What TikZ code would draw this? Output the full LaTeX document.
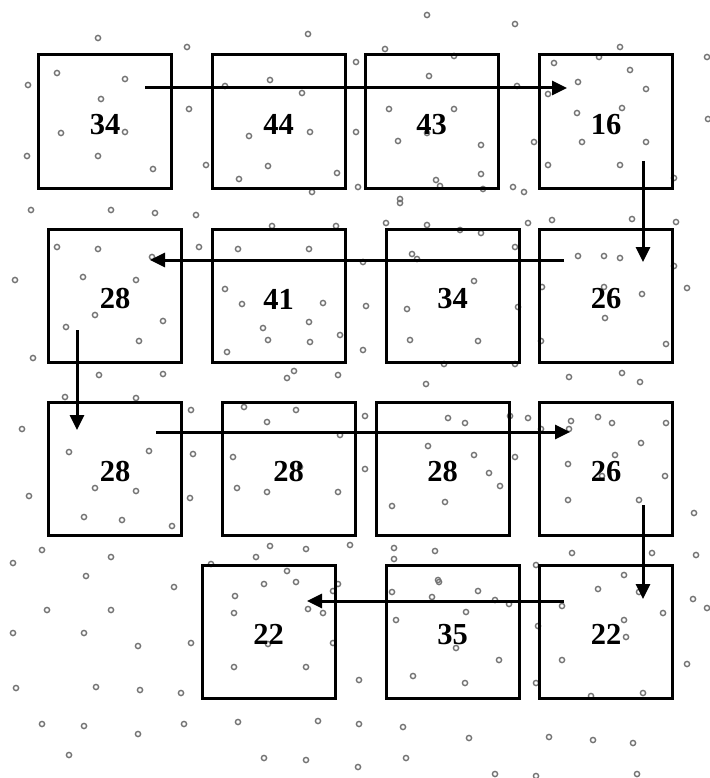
\documentclass[tikz,border=0pt]{standalone}
\usepackage{fontspec}
\setmainfont{Liberation Serif}
\usetikzlibrary{arrows.meta}
\begin{document}
\begin{tikzpicture}[x=1pt,y=-1pt,
  box/.style={draw=black,line width=3pt,minimum width=133pt,minimum height=133pt,inner sep=0pt,
    text height=26pt,font=\fontsize{30.5}{32}\selectfont\bfseries},
  dot/.style={draw=black!55,line width=1.4pt},
  flow/.style={line width=3pt,-{Triangle[length=15pt,width=14pt]}}]
\useasboundingbox (0,0) rectangle (709,778);
% scattered small circles
\foreach \x/\y in {98/38,187/47,308/34,57/73,125/79,28/85,101/99,189/109,225/86,270/80,302/93,356/62,61/133,125/132,249/136,310/132,356/132,27/156,98/156,153/169,206/165,268/166,239/179,337/173,312/192,358/187,
427/15,515/24,385/49,454/56,620/47,599/57,707/57,554/63,630/70,429/76,578/82,646/89,517/86,548/94,389/109,454/109,622/108,577/113,708/119,398/141,427/133,481/145,534/142,582/142,646/142,548/165,620/165,481/174,436/180,440/186,483/189,513/187,524/192,674/178,400/199,
31/210,111/210,155/213,196/215,272/226,336/226,57/247,98/249,199/247,238/249,309/249,152/257,15/280,83/277,136/280,225/289,242/304,323/303,95/315,163/321,263/328,309/322,66/327,268/340,310/342,340/335,139/341,227/352,33/358,99/375,163/374,294/371,287/378,338/375,
400/203,386/223,427/225,460/230,481/233,528/223,552/220,632/219,676/222,515/247,363/262,412/254,417/259,578/256,604/256,620/258,674/266,687/288,542/287,604/287,642/294,474/281,366/306,407/309,518/307,605/318,410/340,478/341,541/341,666/344,363/350,444/364,515/364,426/384,569/377,622/373,640/382,
65/397,136/398,191/410,244/407,296/410,22/429,267/422,340/435,69/452,149/451,193/454,233/457,300/467,29/496,95/488,136/491,190/498,237/488,267/492,338/492,84/517,122/520,172/526,42/550,13/563,111/557,270/546,306/549,350/545,256/557,211/564,287/571,86/576,
365/416,448/418,465/423,510/416,528/418,571/421,569/429,598/417,612/423,666/423,541/429,428/446,474/455,515/457,641/443,615/455,365/469,568/464,489/473,500/486,665/476,602/476,392/506,445/502,568/500,639/500,694/513,394/548,394/559,435/551,572/553,652/553,696/555,536/565,624/575,438/580,
174/587,264/584,296/582,235/596,338/584,333/591,47/610,111/610,234/613,308/609,323/613,13/633,84/633,138/646,191/643,268/644,333/643,234/667,306/667,359/680,16/688,96/687,140/690,181/693,42/724,84/726,184/724,238/722,318/721,138/734,359/724,69/755,264/758,306/760,358/767,
439/582,392/592,432/597,478/591,495/600,509/604,598/589,639/592,693/599,707/608,562/606,466/612,396/620,663/613,624/620,538/626,626/637,456/648,499/660,562/660,687/664,413/676,465/683,536/683,591/696,643/693,403/727,469/738,549/737,593/740,633/743,406/758,495/774,536/776,637/774}
  \draw[dot] (\x,\y) circle[radius=2.6pt];
% boxes
\node[box] (b11) at (105,121.5) {34};
\node[box] (b12) at (278.5,121.5) {44};
\node[box] (b13) at (431.5,121.5) {43};
\node[box] (b14) at (606,121.5) {16};
\node[box] (b21) at (115,296) {28};
\node[box] (b22) at (278.5,296) {41};
\node[box] (b23) at (452.5,296) {34};
\node[box] (b24) at (606,296) {26};
\node[box] (b31) at (115,469) {28};
\node[box] (b32) at (288.5,469) {28};
\node[box] (b33) at (442.5,469) {28};
\node[box] (b34) at (606,469) {26};
\node[box] (b41) at (268.5,631.5) {22};
\node[box] (b42) at (452.5,631.5) {35};
\node[box] (b43) at (606,631.5) {22};
% arrow end points
\coordinate (s1) at (145,88);  \coordinate (e1) at (567,88);
\coordinate (s2) at (643,161); \coordinate (e2) at (643,262);
\coordinate (s3) at (564,260); \coordinate (e3) at (150,260);
\coordinate (s4) at (77,330);  \coordinate (e4) at (77,430);
\coordinate (s5) at (156,432); \coordinate (e5) at (570,432);
\coordinate (s6) at (643,505); \coordinate (e6) at (643,599);
\coordinate (s7) at (564,601); \coordinate (e7) at (307,601);
\draw[flow] (s1) -- (e1);
\draw[flow] (s2) -- (e2);
\draw[flow] (s3) -- (e3);
\draw[flow] (s4) -- (e4);
\draw[flow] (s5) -- (e5);
\draw[flow] (s6) -- (e6);
\draw[flow] (s7) -- (e7);
\end{tikzpicture}
\end{document}
